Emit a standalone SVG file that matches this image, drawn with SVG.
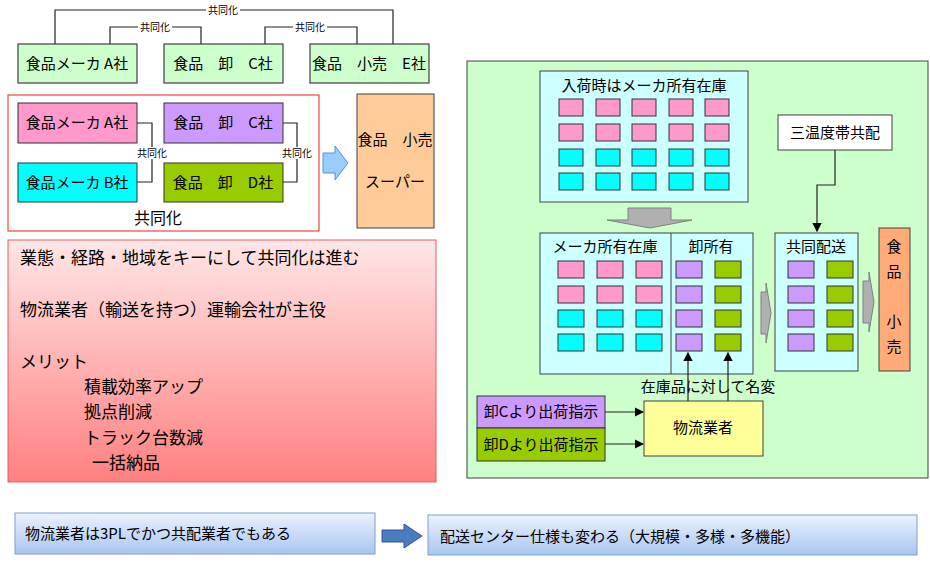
<svg xmlns="http://www.w3.org/2000/svg" width="930" height="567" viewBox="0 0 930 567">
<defs>
<style>
text{font-family:"Noto Sans CJK JP","Liberation Sans",sans-serif;fill:#000}
.b{stroke:#404040;stroke-width:1.2}
.c{fill:none;stroke:#222;stroke-width:1.2}
.pk{fill:#ff99cc;stroke:#333}
.cy{fill:#00ffff;stroke:#333}
.pu{fill:#cc99ff;stroke:#333}
.ol{fill:#99cc00;stroke:#333}
.t15{font-size:15px}
.t10{font-size:10px}
</style>
<linearGradient id="pg" x1="0" y1="0" x2="0" y2="1"><stop offset="0" stop-color="#ffe6e6"/><stop offset="1" stop-color="#ff8080"/></linearGradient>
<linearGradient id="bg" x1="0" y1="0" x2="0" y2="1"><stop offset="0" stop-color="#eaf2ff"/><stop offset="1" stop-color="#a9c6f0"/></linearGradient>
<marker id="ar" markerWidth="8" markerHeight="8" refX="7" refY="4" orient="auto"><path d="M0,0L8,4L0,8z" fill="#000"/></marker>
</defs>
<rect width="930" height="567" fill="#fff"/>
<g id="topA"><rect x="18" y="44" width="119" height="39" fill="#ccffcc" class="b"/><text x="77" y="69" class="t15" text-anchor="middle">食品メーカ A社</text></g>
<g id="topC"><rect x="164" y="44" width="119" height="39" fill="#ccffcc" class="b"/><text x="223" y="69" class="t15" text-anchor="middle">食品　卸　C社</text></g>
<g id="topE"><rect x="310" y="44" width="119" height="39" fill="#ccffcc" class="b"/><text x="369" y="69" class="t15" text-anchor="middle">食品　小売　E社</text></g>
<g id="group"><rect x="8" y="95" width="311" height="136" fill="#fff" stroke="#ff4040" stroke-width="1.2"/><text x="158" y="224" font-size="16" text-anchor="middle">共同化</text></g>
<g id="mA"><rect x="18" y="103" width="119" height="40" class="pk"/><text x="77" y="128" class="t15" text-anchor="middle">食品メーカ A社</text></g>
<g id="wC"><rect x="164" y="103" width="119" height="40" class="pu"/><text x="223" y="128" class="t15" text-anchor="middle">食品　卸　C社</text></g>
<g id="mB"><rect x="18" y="163" width="119" height="39" class="cy"/><text x="77" y="188" class="t15" text-anchor="middle">食品メーカ B社</text></g>
<g id="wD"><rect x="164" y="163" width="119" height="39" class="ol"/><text x="223" y="188" class="t15" text-anchor="middle">食品　卸　D社</text></g>
<path d="M323,153H335V146L348,163L335,180V173H323z" fill="#99ccff" stroke="#5b8fd0"/>
<g id="super"><rect x="357" y="94" width="77" height="134" fill="#ffcc99" stroke="#404040"/><text x="395" y="145" class="t15" text-anchor="middle">食品　小売</text><text x="395" y="187" class="t15" text-anchor="middle">スーパー</text></g>
<g id="merit"><rect x="8" y="240" width="428" height="242" fill="url(#pg)" stroke="#e06060"/>
<text font-size="17"><tspan x="20" y="264">業態・経路・地域をキーにして共同化は進む</tspan><tspan x="20" y="316">物流業者（輸送を持つ）運輸会社が主役</tspan><tspan x="20" y="368">メリット</tspan><tspan x="84" y="393">積載効率アップ</tspan><tspan x="84" y="418">拠点削減</tspan><tspan x="84" y="444">トラック台数減</tspan><tspan x="92" y="469">一括納品</tspan></text></g>
<g id="panel"><rect x="467" y="61" width="461" height="417" fill="#ccffcc" stroke="#404040"/></g>
<g id="inbound"><rect x="540" y="71" width="208" height="131" fill="#ccffff" stroke="#404040"/><text x="644" y="91" class="t15" text-anchor="middle">入荷時はメーカ所有在庫</text>
<g class="pk"><rect x="559" y="99" width="24" height="17"/><rect x="596" y="99" width="24" height="17"/><rect x="632" y="99" width="24" height="17"/><rect x="669" y="99" width="24" height="17"/><rect x="705" y="99" width="24" height="17"/><rect x="559" y="124" width="24" height="17"/><rect x="596" y="124" width="24" height="17"/><rect x="632" y="124" width="24" height="17"/><rect x="669" y="124" width="24" height="17"/><rect x="705" y="124" width="24" height="17"/></g>
<g class="cy"><rect x="559" y="149" width="24" height="17"/><rect x="596" y="149" width="24" height="17"/><rect x="632" y="149" width="24" height="17"/><rect x="669" y="149" width="24" height="17"/><rect x="705" y="149" width="24" height="17"/><rect x="559" y="173" width="24" height="17"/><rect x="596" y="173" width="24" height="17"/><rect x="632" y="173" width="24" height="17"/><rect x="669" y="173" width="24" height="17"/><rect x="705" y="173" width="24" height="17"/></g></g>
<path d="M628,208H671V220H692L650,228L607,220H628z" fill="#b0b0b0" stroke="#808080"/>
<g id="stock"><rect x="540" y="233" width="213" height="141" fill="#ccffff" stroke="#404040"/><line x1="671" y1="233" x2="671" y2="374" stroke="#404040"/>
<text x="605" y="252" class="t15" text-anchor="middle">メーカ所有在庫</text><text x="711" y="252" class="t15" text-anchor="middle">卸所有</text>
<g class="pk"><rect x="558" y="261" width="26" height="17"/><rect x="597" y="261" width="26" height="17"/><rect x="636" y="261" width="26" height="17"/><rect x="558" y="286" width="26" height="17"/><rect x="597" y="286" width="26" height="17"/><rect x="636" y="286" width="26" height="17"/></g>
<g class="cy"><rect x="558" y="310" width="26" height="17"/><rect x="597" y="310" width="26" height="17"/><rect x="636" y="310" width="26" height="17"/><rect x="558" y="334" width="26" height="17"/><rect x="597" y="334" width="26" height="17"/><rect x="636" y="334" width="26" height="17"/></g>
<g class="pu"><rect x="676" y="261" width="26" height="17"/><rect x="676" y="286" width="26" height="17"/><rect x="676" y="310" width="26" height="17"/><rect x="676" y="334" width="26" height="17"/></g>
<g class="ol"><rect x="715" y="261" width="26" height="17"/><rect x="715" y="286" width="26" height="17"/><rect x="715" y="310" width="26" height="17"/><rect x="715" y="334" width="26" height="17"/></g></g>
<path d="M761,292H766V283L771,313L766,343V334H761z" fill="#b0b0b0" stroke="#808080"/>
<g id="joint"><rect x="775" y="233" width="83" height="138" fill="#ccffff" stroke="#404040"/><text x="816" y="252" class="t15" text-anchor="middle">共同配送</text>
<g class="pu"><rect x="788" y="261" width="26" height="17"/><rect x="788" y="286" width="26" height="17"/><rect x="788" y="310" width="26" height="17"/><rect x="788" y="334" width="26" height="17"/></g>
<g class="ol"><rect x="827" y="261" width="26" height="17"/><rect x="827" y="286" width="26" height="17"/><rect x="827" y="310" width="26" height="17"/><rect x="827" y="334" width="26" height="17"/></g></g>
<path d="M863,281H869V272L874,302L869,332V323H863z" fill="#b0b0b0" stroke="#808080"/>
<g id="retail"><rect x="879" y="228" width="31" height="143" fill="#ffaa77" stroke="#404040"/><text class="t15" text-anchor="middle"><tspan x="894" y="252">食</tspan><tspan x="894" y="277">品</tspan><tspan x="894" y="327">小</tspan><tspan x="894" y="352">売</tspan></text></g>
<g id="three"><rect x="778" y="115" width="114" height="35" fill="#fff" stroke="#404040"/><text x="835" y="138" class="t15" text-anchor="middle">三温度帯共配</text></g>
<text x="708" y="392" class="t15" text-anchor="middle">在庫品に対して名変</text>
<g id="lsp"><rect x="644" y="401" width="119" height="55" fill="#ffff99" stroke="#404040"/><text x="703" y="433" class="t15" text-anchor="middle">物流業者</text></g>
<g id="instC"><rect x="477" y="396" width="128" height="32" fill="#cc99ff" stroke="#333"/><text x="541" y="417" class="t15" text-anchor="middle">卸Cより出荷指示</text></g>
<g id="instD"><rect x="477" y="428" width="128" height="33" fill="#99cc00" stroke="#333"/><text x="541" y="450" class="t15" text-anchor="middle">卸Dより出荷指示</text></g>
<g id="b1"><rect x="15" y="513" width="360" height="41" fill="url(#bg)" stroke="#7da0d0"/><text x="25" y="539" class="t15">物流業者は3PLでかつ共配業者でもある</text></g>
<path d="M382,530H404V524L422,536L404,548V542H382z" fill="#4a7cc0" stroke="#2f5590"/>
<g id="b2"><rect x="428" y="515" width="489" height="40" fill="url(#bg)" stroke="#7da0d0"/><text x="440" y="542" class="t15">配送センター仕様も変わる（大規模・多様・多機能）</text></g>
<g id="connectors">
<path class="c" d="M55,44V10H393V44M110,44V27H201V44M265,44V27H357V44"/>
<path class="c" d="M137,123H152V182H137M283,123H297V182H283"/>
<path class="c" d="M835,150V185H817V231" marker-end="url(#ar)"/>
<path class="c" d="M605,412H643" marker-end="url(#ar)"/>
<path class="c" d="M605,444H643" marker-end="url(#ar)"/>
<path class="c" d="M688,401V353" marker-end="url(#ar)"/>
<path class="c" d="M728,401V353" marker-end="url(#ar)"/>
<g class="t10">
<rect x="206" y="4" width="34" height="12" fill="#fff"/><text x="223" y="14" text-anchor="middle">共同化</text>
<rect x="138" y="21" width="34" height="12" fill="#fff"/><text x="155" y="31" text-anchor="middle">共同化</text>
<rect x="293" y="21" width="34" height="12" fill="#fff"/><text x="310" y="31" text-anchor="middle">共同化</text>
<rect x="136" y="147" width="33" height="12" fill="#fff"/><text x="152" y="157" text-anchor="middle">共同化</text>
<rect x="281" y="147" width="33" height="12" fill="#fff"/><text x="297" y="157" text-anchor="middle">共同化</text>
</g>
</g>
</svg>
